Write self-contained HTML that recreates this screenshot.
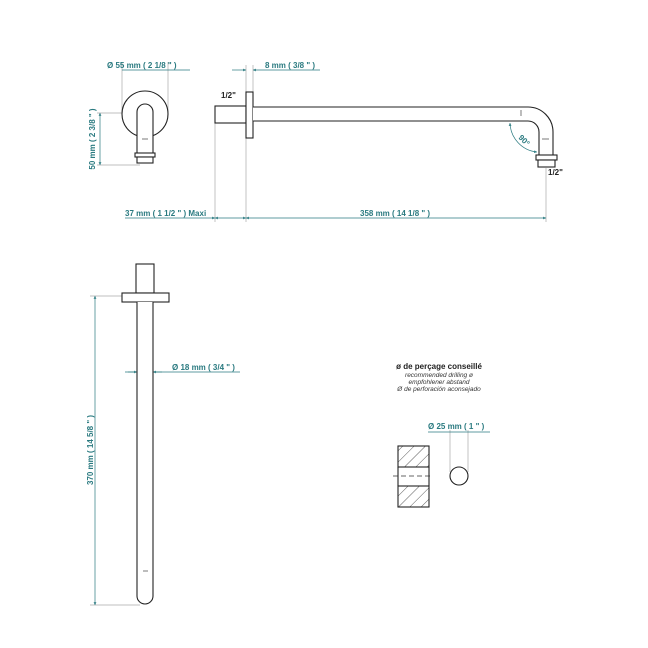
<!DOCTYPE html>
<html><head><meta charset="utf-8"><style>
html,body{margin:0;padding:0;background:#fff}
svg{display:block}
text{font-family:"Liberation Sans",sans-serif;font-size:8px;font-weight:bold;fill:#2a7a80}
.k{fill:#222}
.i{font-weight:normal;font-style:italic;font-size:6.5px;fill:#333}
</style></head><body>
<svg width="648" height="648" viewBox="0 0 648 648" xmlns="http://www.w3.org/2000/svg">
<defs>
<marker id="a" viewBox="0 0 10 10" refX="10" refY="5" markerWidth="6" markerHeight="4" orient="auto-start-reverse"><path d="M0,0L10,5L0,10z" fill="#2a7a80"/></marker>
<pattern id="h" width="8" height="8" patternUnits="userSpaceOnUse" patternTransform="rotate(45)"><line x1="0" y1="0" x2="0" y2="8" stroke="#333" stroke-width="0.8"/></pattern>
</defs>
<g fill="none" stroke="#aaa" stroke-width="0.7">
<line x1="122" y1="62" x2="122" y2="112"/><line x1="168" y1="62" x2="168" y2="112"/>
<line x1="97" y1="113" x2="145" y2="113"/><line x1="97" y1="165" x2="140" y2="165"/>
<line x1="215" y1="123" x2="215" y2="222"/><line x1="246" y1="65" x2="246" y2="222"/><line x1="253" y1="65" x2="253" y2="92"/>
<line x1="546" y1="168" x2="546" y2="222"/>
<line x1="90" y1="296" x2="122" y2="296"/><line x1="90" y1="605" x2="140" y2="605"/>
<line x1="450" y1="430" x2="450" y2="472"/><line x1="468" y1="430" x2="468" y2="472"/>
</g>
<g fill="none" stroke="#2a7a80" stroke-width="0.7">
<line x1="122" y1="70" x2="190" y2="70" />
<line x1="100" y1="113" x2="100" y2="165" marker-start="url(#a)" marker-end="url(#a)"/>
<line x1="232" y1="70" x2="246" y2="70" marker-end="url(#a)"/><line x1="320" y1="70" x2="253" y2="70" marker-end="url(#a)"/>
<line x1="125" y1="218" x2="215" y2="218" marker-end="url(#a)"/>
<line x1="215" y1="218" x2="246" y2="218" marker-start="url(#a)" marker-end="url(#a)"/>
<line x1="246" y1="218" x2="546" y2="218" marker-start="url(#a)" marker-end="url(#a)"/>
<path d="M510,123 A30,30 0 0 0 537,152" marker-start="url(#a)" marker-end="url(#a)"/>
<line x1="95" y1="296" x2="95" y2="605" marker-start="url(#a)" marker-end="url(#a)"/>
<line x1="125" y1="372" x2="240" y2="372"/>
<line x1="128" y1="372" x2="137" y2="372" marker-end="url(#a)"/><line x1="162" y1="372" x2="153" y2="372" marker-end="url(#a)"/>
<line x1="428" y1="432" x2="490" y2="432"/>
</g>
<g fill="#fff" stroke="#222" stroke-width="1.1">
<circle cx="145" cy="114" r="23"/>
<path d="M137,153 V112 a8,8 0 0 1 16,0 V153"/>
<line x1="142" y1="139" x2="148" y2="139" stroke-width="0.6"/>
<rect x="135" y="153" width="20" height="4"/><rect x="137" y="157" width="16" height="6"/>
<rect x="215" y="106" width="31" height="17"/>
<rect x="246" y="92" width="7" height="46"/>
<path d="M253,107 H528 A25,25 0 0 1 553,132 V155 H539 V132 A11,11 0 0 0 528,121 H253"/>
<line x1="521" y1="110" x2="521" y2="116" stroke-width="0.6"/><line x1="542" y1="139" x2="549" y2="139" stroke-width="0.6"/>
<rect x="536" y="155" width="21" height="5"/><rect x="538" y="160" width="17" height="7"/>
<rect x="136" y="264" width="18" height="29"/>
<rect x="122" y="293" width="47" height="9"/>
<path d="M137,302 V596 a8,8 0 1 0 16,0 V302"/>
<line x1="143" y1="571" x2="148" y2="571" stroke-width="0.6"/>
<rect x="398" y="446" width="31" height="21" fill="url(#h)"/>
<rect x="398" y="486" width="31" height="21" fill="url(#h)"/>
<line x1="398" y1="467" x2="398" y2="486"/><line x1="429" y1="467" x2="429" y2="486"/>
<circle cx="459" cy="476" r="9"/>
</g>
<line x1="393" y1="476" x2="433" y2="476" stroke="#333" stroke-width="0.7" stroke-dasharray="5,3"/>
<text x="107" y="68">Ø 55 mm ( 2 1/8 " )</text>
<text transform="translate(95,139) rotate(-90)" text-anchor="middle">50 mm ( 2 3/8 " )</text>
<text x="265" y="68">8 mm ( 3/8 " )</text>
<text x="221" y="98" class="k" font-size="7">1/2"</text>
<text x="548" y="175" class="k" font-size="7">1/2"</text>
<text x="125" y="216">37 mm ( 1 1/2 " )  Maxi</text>
<text x="360" y="216">358 mm ( 14 1/8 " )</text>
<text transform="translate(518,138) rotate(45)" font-size="7" fill="#2a60c0">90°</text>
<text transform="translate(93,450) rotate(-90)" text-anchor="middle">370 mm ( 14 5/8 " )</text>
<text x="172" y="370">Ø 18 mm ( 3/4 " )</text>
<text x="439" y="369" text-anchor="middle" class="k">ø de perçage conseillé</text>
<text x="439" y="377" text-anchor="middle" class="i">recommended drilling ø</text>
<text x="439" y="384" text-anchor="middle" class="i">empfohlener abstand</text>
<text x="439" y="391" text-anchor="middle" class="i">Ø de perforación aconsejado</text>
<text x="428" y="429">Ø 25 mm ( 1 " )</text>
</svg>
</body></html>
